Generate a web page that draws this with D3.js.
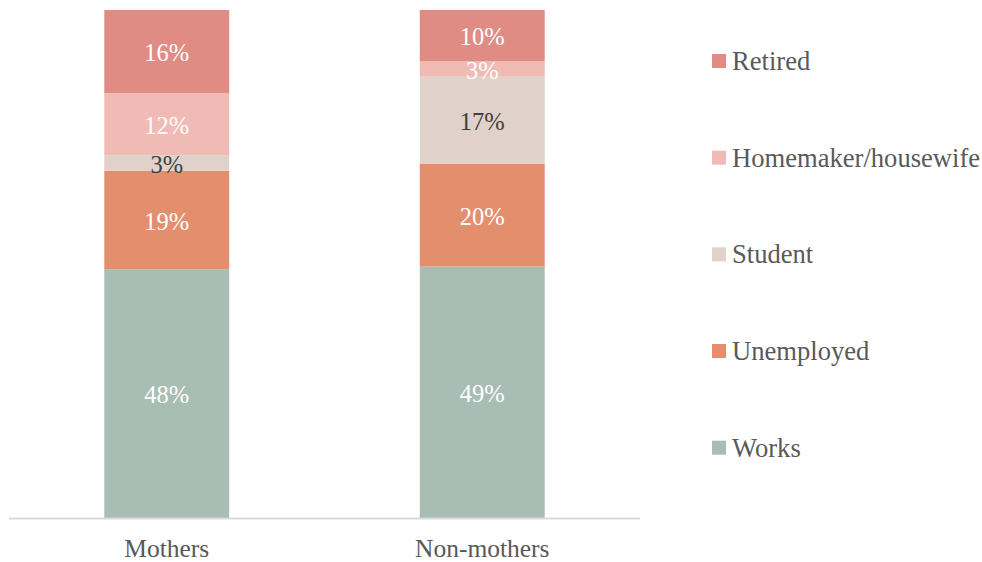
<!DOCTYPE html>
<html>
<head>
<meta charset="utf-8">
<script src="https://cdn.jsdelivr.net/npm/d3@7"></script>
<style>
  html, body { margin: 0; padding: 0; background: #fff; }
  svg { display: block; }
  text { font-family: "Liberation Serif", "Times New Roman", serif; }
</style>
</head>
<body>
<svg id="chart" width="982" height="562"></svg>
<script>
// ---- data ----
const categories = ["Mothers", "Non-mothers"];
const seriesNames = ["Works", "Unemployed", "Student", "Homemaker/housewife", "Retired"];
const works      = [48, 49];
const unemployed = [19, 20];
const student    = [3, 17];
const homemaker  = [12, 3];
const retired    = [16, 10];
const seriesColors = ["#a8bdb3", "#e38f6e", "#e0d2c9", "#efbbb4", "#e08c85"];
const labelColors  = ["#ffffff", "#ffffff", "#404040", "#ffffff", "#ffffff"];

const seriesValues = [works, unemployed, student, homemaker, retired];
const rows = categories.map((c, i) => {
  const r = { category: c };
  seriesNames.forEach((s, j) => r[s] = seriesValues[j][i]);
  return r;
});

const svg = d3.select("#chart");
const plot = { left: 9, right: 640, top: 10, bottom: 518 };

const x = d3.scaleBand().domain(categories).range([plot.left, plot.right]).paddingInner(0.604).paddingOuter(0.302);
const y = d3.scaleLinear().domain([0, 1]).range([plot.bottom, plot.top]);
const color = d3.scaleOrdinal().domain(seriesNames).range(seriesColors);
const labelColor = d3.scaleOrdinal().domain(seriesNames).range(labelColors);

const stacked = d3.stack().keys(seriesNames).offset(d3.stackOffsetExpand)(rows);

const layers = svg.append("g").selectAll("g")
  .data(stacked).join("g")
  .attr("fill", d => color(d.key));

layers.selectAll("rect")
  .data(d => d.map(v => ({ key: d.key, v })))
  .join("rect")
  .attr("x", d => x(d.v.data.category))
  .attr("width", x.bandwidth())
  .attr("y", d => y(d.v[1]))
  .attr("height", d => y(d.v[0]) - y(d.v[1]));

layers.selectAll("text")
  .data(d => d.map(v => ({ key: d.key, v })))
  .join("text")
  .attr("x", d => x(d.v.data.category) + x.bandwidth() / 2)
  .attr("y", d => (y(d.v[0]) + y(d.v[1])) / 2)
  .attr("dy", "0.4em")
  .attr("text-anchor", "middle")
  .attr("font-size", 24.5)
  .attr("fill", d => labelColor(d.key))
  .text(d => d.v.data[d.key] + "%");

// x axis
const xAxis = svg.append("g")
  .attr("transform", `translate(0,${plot.bottom + 0.5})`)
  .call(d3.axisBottom(x).tickSize(0).tickPadding(0));
xAxis.select(".domain").attr("stroke", "#d9d9d9").attr("stroke-width", 2)
  .attr("d", `M${plot.left},0H${plot.right}`);
xAxis.selectAll(".tick text")
  .attr("y", 38)
  .attr("dy", null)
  .attr("font-family", "Liberation Serif, Times New Roman, serif")
  .attr("font-size", 25.5)
  .attr("fill", "#595959");

// legend
const legendOrder = seriesNames.slice().reverse();
const ly = d3.scalePoint().domain(legendOrder).range([61, 447.7]);
const legend = svg.append("g").selectAll("g")
  .data(legendOrder).join("g")
  .attr("transform", d => `translate(712,${ly(d)})`);
legend.append("rect")
  .attr("x", 0).attr("y", -7).attr("width", 14).attr("height", 14)
  .attr("fill", d => color(d));
legend.append("text")
  .attr("x", 20).attr("y", 0).attr("dy", "0.34em")
  .attr("font-size", 26.6)
  .attr("fill", "#595959")
  .text(d => d);
</script>
</body>
</html>
